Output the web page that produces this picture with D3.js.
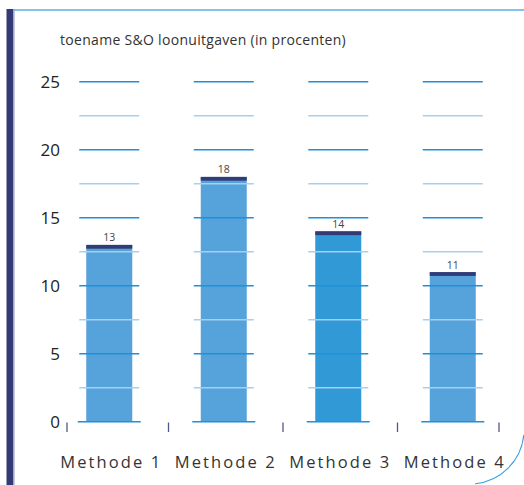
<!DOCTYPE html>
<html>
<head>
<meta charset="utf-8">
<script src="https://cdn.jsdelivr.net/npm/d3@7"></script>
<style>
  html, body { margin: 0; padding: 0; background: #fff; }
  svg { display: block; }
</style>
</head>
<body>
<svg id="chart" width="524" height="485"></svg>
<script>
const categories = ["Methode 1", "Methode 2", "Methode 3", "Methode 4"];
const values = [13, 18, 14, 11];
const majorTicks = [0, 5, 10, 15, 20, 25];
const minorTicks = [2.5, 7.5, 12.5, 17.5, 22.5];
const title = "toename S&O loonuitgaven (in procenten)";

const svg = d3.select("#chart");
const font = "'Open Sans', 'Noto Sans', sans-serif";

const x = d3.scaleBand().domain(categories).range([52, 510]).padding(0);
const y = d3.scaleLinear().domain([0, 25]).range([421.7, 81.7]);
const step = x.step();
const barW = 46;
const gridW = 60;

// frame: left navy bar, top line, bottom-right arc
svg.append("rect").attr("x", 6.5).attr("y", 9).attr("width", 7).attr("height", 476).attr("fill", "#343a74");
svg.append("rect").attr("x", 13.5).attr("y", 9).attr("width", 1.2).attr("height", 476).attr("fill", "#b3b4d6");
svg.append("line").attr("x1", 13.5).attr("x2", 524).attr("y1", 10).attr("y2", 10)
  .attr("stroke", "#5aaee5").attr("stroke-width", 1.6);
const arc = d3.path();
arc.arc(470, 430, 54, Math.PI * 0.03, Math.PI * 0.47);
svg.append("path").attr("d", arc.toString()).attr("fill", "none").attr("stroke", "#3a9ee0").attr("stroke-width", 1.1);

// title
svg.append("text").attr("x", 60).attr("y", 45).text(title)
  .attr("font-family", font).attr("font-size", 14).attr("letter-spacing", 0.3).attr("fill", "#333");

// bars
const bars = svg.append("g");
bars.selectAll("rect.bar").data(values).join("rect").attr("class", "bar")
  .attr("x", (d, i) => x(categories[i]) + step / 2 - barW / 2)
  .attr("width", barW)
  .attr("y", d => y(d))
  .attr("height", d => y(0) - y(d))
  .attr("fill", (d, i) => i === 2 ? "#3199d6" : "#55a3da");
bars.selectAll("rect.cap").data(values).join("rect").attr("class", "cap")
  .attr("x", (d, i) => x(categories[i]) + step / 2 - barW / 2)
  .attr("width", barW)
  .attr("y", d => y(d))
  .attr("height", 3.8)
  .attr("fill", "#343a74");

// gridline segments (over the bars)
const grid = svg.append("g");
categories.forEach(c => {
  const cx = x(c) + step / 2;
  grid.selectAll(null).data(minorTicks).join("line")
    .attr("x1", cx - gridW / 2).attr("x2", cx + gridW / 2)
    .attr("y1", d => y(d)).attr("y2", d => y(d))
    .attr("stroke", "#a6d0f1").attr("stroke-width", 1.5);
  grid.selectAll(null).data(majorTicks.filter(t => t > 0)).join("line")
    .attr("x1", cx - gridW / 2).attr("x2", cx + gridW / 2)
    .attr("y1", d => y(d)).attr("y2", d => y(d))
    .attr("stroke", "#1d91d9").attr("stroke-width", 1.4);
  grid.append("line")
    .attr("x1", cx - 31.5).attr("x2", cx + 31.5)
    .attr("y1", y(0)).attr("y2", y(0))
    .attr("stroke", "#1d91d9").attr("stroke-width", 1.4);
});

// y-axis labels
svg.append("g").selectAll("text").data(majorTicks).join("text")
  .attr("x", 60).attr("y", d => y(d)).attr("dy", "0.36em")
  .attr("text-anchor", "end")
  .attr("font-family", font).attr("font-size", 17).attr("fill", "#222")
  .text(d => d);

// value labels
svg.append("g").selectAll("text").data(values).join("text")
  .attr("x", (d, i) => x(categories[i]) + step / 2)
  .attr("y", d => y(d) - 3.5)
  .attr("text-anchor", "middle")
  .attr("font-family", font).attr("font-size", 10.5).attr("fill", "#444")
  .text(d => d);

// category ticks at band boundaries
const bounds = categories.map(c => x(c)).concat([x.range()[1]]);
const tickX = bounds.map((b, i) => i === 0 ? b + 15 : (i === bounds.length - 1 ? b - 11 : b + 2));
svg.append("g").selectAll("line").data(tickX).join("line")
  .attr("x1", d => d).attr("x2", d => d)
  .attr("y1", 422.5).attr("y2", 432)
  .attr("stroke", "#50568e").attr("stroke-width", 1.3);

// category labels
svg.append("g").selectAll("text").data(categories).join("text")
  .attr("x", (d, i) => x(d) + step / 2 + 2)
  .attr("y", 468)
  .attr("text-anchor", "middle")
  .attr("font-family", font).attr("font-size", 16.5).attr("letter-spacing", 2.1)
  .attr("fill", "#333")
  .text(d => d);
</script>
</body>
</html>
